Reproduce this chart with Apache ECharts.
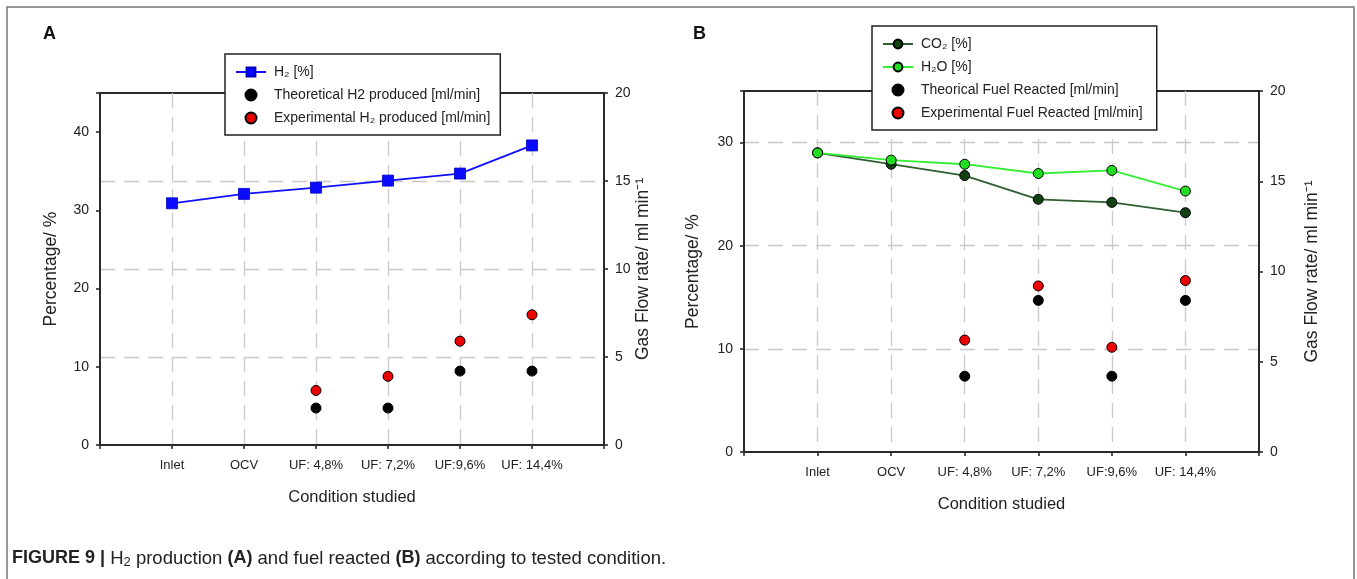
<!DOCTYPE html>
<html>
<head>
<meta charset="utf-8">
<script src="https://cdn.jsdelivr.net/npm/echarts@6/dist/echarts.min.js"></script>
<style>
  html, body { margin: 0; padding: 0; background: #fff; }
  #main { width: 1357px; height: 579px; }
</style>
</head>
<body>
<div id="main"></div>
<script>
// categorias del eje x (mismas en A y B)
var categories = ['Inlet', 'OCV', 'UF: 4,8%', 'UF: 7,2%', 'UF:9,6%', 'UF: 14,4%'];

// panel A
var h2Pct = [30.9, 32.1, 32.9, 33.8, 34.7, 38.3];
var h2Theoretical = [null, null, 2.1, 2.1, 4.2, 4.2];
var h2Experimental = [null, null, 3.1, 3.9, 5.9, 7.4];

// panel B
var co2Pct = [29.0, 27.9, 26.8, 24.5, 24.2, 23.2];
var h2oPct = [29.0, 28.3, 27.9, 27.0, 27.3, 25.3];
var fuelTheorical = [null, null, 4.2, 8.4, 4.2, 8.4];
var fuelExperimental = [null, null, 6.2, 9.2, 5.8, 9.5];

var leftTicksA = 10, leftMaxA = 45;
var leftTicksB = 10, leftMaxB = 35;
var rightTicks = 5, rightMax = 20;

function toXY(arr) {
    var out = [];
    for (var i = 0; i < arr.length; i++) {
        if (arr[i] !== null) out.push([i + 1, arr[i]]);
    }
    return out;
}

var font = 'Liberation Sans, Arial, sans-serif';
var axisColor = '#2a2a2a';
var gridDash = { color: '#c8c8c8', width: 1.3, type: [15, 9] };

function xAxisCfg(gridIndex) {
    return {
        type: 'value', gridIndex: gridIndex, min: 0, max: 7, interval: 1,
        name: 'Condition studied', nameLocation: 'middle', nameGap: 44,
        nameTextStyle: { fontFamily: font, fontSize: 16.5, color: '#222' },
        axisLine: { lineStyle: { color: axisColor, width: 2 } },
        axisTick: { show: true, length: 4, lineStyle: { color: axisColor, width: 1.6 } },
        axisLabel: {
            fontFamily: font, fontSize: 13, color: '#222', margin: 14,
            formatter: function (v) { return categories[v - 1] || ''; }
        },
        splitLine: { show: true, showMinLine: false, showMaxLine: false, lineStyle: gridDash }
    };
}

function yAxisCfg(gridIndex, pos, max, interval, showSplit, name, gap) {
    return {
        type: 'value', gridIndex: gridIndex, position: pos, min: 0, max: max, interval: interval,
        name: name, nameLocation: 'middle', nameGap: gap, nameRotate: 90,
        nameTextStyle: { fontFamily: font, fontSize: 17.5, color: '#222' },
        axisLine: { show: true, lineStyle: { color: axisColor, width: 2 } },
        axisTick: { show: true, length: 4, lineStyle: { color: axisColor, width: 1.6 } },
        axisLabel: {
            fontFamily: font, fontSize: 14, color: '#222', margin: 11,
            formatter: function (v) { return v % interval === 0 ? v : ''; }
        },
        splitLine: { show: showSplit, showMinLine: false, showMaxLine: false, lineStyle: gridDash }
    };
}

var legendBase = {
    orient: 'vertical', backgroundColor: '#fff', borderColor: '#222', borderWidth: 1.5,
    itemWidth: 30, itemHeight: 11, itemGap: 9,
    textStyle: { fontFamily: font, fontSize: 14, color: '#222', padding: [0, 0, 0, 3] }
};

var myChart = echarts.init(document.getElementById('main'));

var option = {
    animation: false,
    backgroundColor: '#fff',
    grid: [
        { left: 100, top: 93, width: 504, height: 352, show: true, borderColor: axisColor, borderWidth: 2, backgroundColor: 'transparent' },
        { left: 744, top: 91, width: 515, height: 361, show: true, borderColor: axisColor, borderWidth: 2, backgroundColor: 'transparent' }
    ],
    xAxis: [xAxisCfg(0), xAxisCfg(1)],
    yAxis: [
        yAxisCfg(0, 'left', leftMaxA, leftTicksA, false, 'Percentage/ %', 40),
        yAxisCfg(0, 'right', rightMax, rightTicks, true, 'Gas Flow rate/ ml min⁻¹', 26),
        yAxisCfg(1, 'left', leftMaxB, leftTicksB, true, 'Percentage/ %', 42),
        yAxisCfg(1, 'right', rightMax, rightTicks, false, 'Gas Flow rate/ ml min⁻¹', 44)
    ],
    legend: [
        Object.assign({}, legendBase, {
            left: 225, top: 54, padding: [11, 10, 10, 10],
            data: ['H₂ [%]', 'Theoretical H2 produced [ml/min]', 'Experimental H₂ produced [ml/min]']
        }),
        Object.assign({}, legendBase, {
            left: 872, top: 26, padding: [11, 14, 10, 10],
            data: ['CO₂ [%]', 'H₂O [%]', 'Theorical Fuel Reacted [ml/min]', 'Experimental Fuel Reacted [ml/min]']
        })
    ],
    series: [
        {
            name: 'H₂ [%]', type: 'line', xAxisIndex: 0, yAxisIndex: 0,
            data: toXY(h2Pct), symbol: 'rect', symbolSize: 11,
            lineStyle: { color: '#1010ff', width: 1.8 },
            itemStyle: { color: '#0a0aff', borderColor: '#0000c0', borderWidth: 0.8 }
        },
        {
            name: 'Theoretical H2 produced [ml/min]', type: 'scatter', xAxisIndex: 0, yAxisIndex: 1,
            data: toXY(h2Theoretical), symbolSize: 10,
            itemStyle: { color: '#000', borderColor: '#000', borderWidth: 1, opacity: 1 }
        },
        {
            name: 'Experimental H₂ produced [ml/min]', type: 'scatter', xAxisIndex: 0, yAxisIndex: 1,
            data: toXY(h2Experimental), symbolSize: 10,
            itemStyle: { color: '#ee0000', borderColor: '#000', borderWidth: 1, opacity: 1 }
        },
        {
            name: 'CO₂ [%]', type: 'line', xAxisIndex: 1, yAxisIndex: 2,
            data: toXY(co2Pct), symbol: 'circle', symbolSize: 10,
            lineStyle: { color: '#2f5f2f', width: 1.8 },
            itemStyle: { color: '#124212', borderColor: '#000', borderWidth: 1 }
        },
        {
            name: 'H₂O [%]', type: 'line', xAxisIndex: 1, yAxisIndex: 2,
            data: toXY(h2oPct), symbol: 'circle', symbolSize: 10,
            lineStyle: { color: '#33ee33', width: 1.8 },
            itemStyle: { color: '#22dd22', borderColor: '#000', borderWidth: 1 }
        },
        {
            name: 'Theorical Fuel Reacted [ml/min]', type: 'scatter', xAxisIndex: 1, yAxisIndex: 3,
            data: toXY(fuelTheorical), symbolSize: 10,
            itemStyle: { color: '#000', borderColor: '#000', borderWidth: 1, opacity: 1 }
        },
        {
            name: 'Experimental Fuel Reacted [ml/min]', type: 'scatter', xAxisIndex: 1, yAxisIndex: 3,
            data: toXY(fuelExperimental), symbolSize: 10,
            itemStyle: { color: '#ee0000', borderColor: '#000', borderWidth: 1, opacity: 1 }
        }
    ],
    graphic: [
        {
            type: 'rect', silent: true, z: -1,
            shape: { x: 7, y: 7, width: 1347, height: 600 },
            style: { fill: 'none', stroke: '#777', lineWidth: 1.5 }
        },
        { type: 'text', left: 43, top: 25, style: { text: 'A', font: 'bold 18px ' + font, fill: '#111' } },
        { type: 'text', left: 693, top: 25, style: { text: 'B', font: 'bold 18px ' + font, fill: '#111' } },
        {
            type: 'text', left: 12, top: 549,
            style: {
                text: '{b|FIGURE 9 |} H{s|2} production {b|(A)} and fuel reacted {b|(B)} according to tested condition.',
                font: '18.5px ' + font, fill: '#222',
                rich: {
                    b: { font: 'bold 18px ' + font, fill: '#222' },
                    s: { font: '13px ' + font, fill: '#222', padding: [7, 0, 0, 0] }
                }
            }
        }
    ]
};

myChart.setOption(option);
</script>
</body>
</html>
